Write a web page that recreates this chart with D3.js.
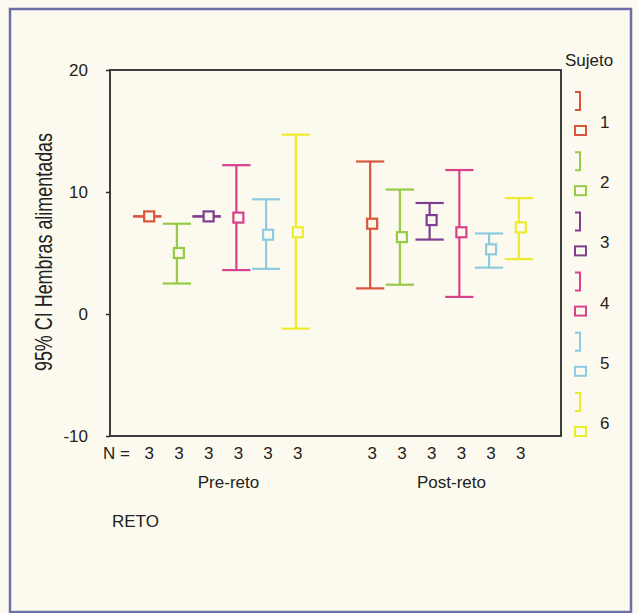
<!DOCTYPE html>
<html>
<head>
<meta charset="utf-8">
<script src="https://cdn.jsdelivr.net/npm/d3@7"></script>
<style>
  body { margin: 0; background: #fcfaee; }
  text { font-family: "Liberation Sans", Arial, sans-serif; fill: #222; }
</style>
</head>
<body>
<div id="chart-container"></div>
<script>
// groups on the x axis and subjects within each group
const retoLevels = ["Pre-reto", "Post-reto"];
const subjects = ["1", "2", "3", "4", "5", "6"];
const subjectColors = ["#d9553b", "#96cb48", "#7d3f8f", "#d8428c", "#8ccbe0", "#ecec2e"];

// means and 95% CI limits
const preMean = [8.0, 5.0, 8.0, 7.9, 6.5, 6.7];
const preLow = [8.0, 2.5, 8.0, 3.6, 3.7, -1.2];
const preHigh = [8.0, 7.4, 8.0, 12.2, 9.4, 14.7];
const postMean = [7.4, 6.3, 7.7, 6.7, 5.3, 7.1];
const postLow = [2.1, 2.4, 6.1, 1.4, 3.8, 4.5];
const postHigh = [12.5, 10.2, 9.1, 11.8, 6.6, 9.5];
const preN = [3, 3, 3, 3, 3, 3];
const postN = [3, 3, 3, 3, 3, 3];
const yTicks = [-10, 0, 10, 20];

const width = 638;
const height = 613;
const plot = { left: 110, top: 70, right: 561, bottom: 436 };

const rows = [];
subjects.forEach((s, i) => {
    rows.push({ reto: "Pre-reto", subject: s, mean: preMean[i], low: preLow[i], high: preHigh[i], n: preN[i] });
    rows.push({ reto: "Post-reto", subject: s, mean: postMean[i], low: postLow[i], high: postHigh[i], n: postN[i] });
});

const svg = d3.select("#chart-container")
    .append("svg")
        .attr("width", width)
        .attr("height", height);

svg.append("rect")
    .attr("width", width).attr("height", height)
    .attr("fill", "#fcfaee");

// outer frame of the figure
svg.append("rect")
    .attr("x", 10).attr("y", 9)
    .attr("width", 621).attr("height", 603)
    .attr("fill", "none")
    .attr("stroke", "#6b70a6")
    .attr("stroke-width", 2.5);

const y = d3.scaleLinear()
    .domain([-10, 20])
    .range([plot.bottom, plot.top]);

const x0 = d3.scaleBand()
    .domain(retoLevels)
    .range([plot.left, plot.left + 446]);

const x1 = d3.scaleBand()
    .domain(subjects)
    .range([0, x0.bandwidth()])
    .paddingOuter(0.75);

const color = d3.scaleOrdinal()
    .domain(subjects)
    .range(subjectColors);

const cx = d => x0(d.reto) + x1(d.subject) + x1.bandwidth() / 2;
const capW = x1.step() * 0.95;

// plot box
svg.append("rect")
    .attr("x", plot.left).attr("y", plot.top)
    .attr("width", plot.right - plot.left)
    .attr("height", plot.bottom - plot.top)
    .attr("fill", "none")
    .attr("stroke", "#2a2a2a")
    .attr("stroke-width", 1.8);

// y axis (plain hyphen for negatives, as in the original)
const yAxis = svg.append("g")
    .attr("transform", `translate(${plot.left},0)`)
    .call(d3.axisLeft(y).tickValues(yTicks).tickFormat(d => String(d))
        .tickSize(4).tickSizeOuter(0).tickPadding(18));
yAxis.select(".domain").remove();
yAxis.selectAll(".tick line").attr("stroke", "#2a2a2a").attr("stroke-width", 1.5);
yAxis.selectAll(".tick text")
    .attr("font-size", 17)
    .attr("font-family", "Liberation Sans, Arial, sans-serif")
    .attr("fill", "#222");

svg.append("text")
    .attr("transform", "translate(52,252) rotate(-90) scale(0.78,1)")
    .attr("text-anchor", "middle")
    .attr("font-size", 23)
    .text("95% CI Hembras alimentadas");

// error bars
const bar = svg.selectAll("g.bar")
    .data(rows)
    .enter()
    .append("g")
        .attr("class", "bar")
        .attr("stroke", d => color(d.subject))
        .attr("fill", "none")
        .attr("stroke-width", 2.2);

bar.append("line")
    .attr("x1", cx).attr("x2", cx)
    .attr("y1", d => y(d.high)).attr("y2", d => y(d.low));

bar.append("line")
    .attr("x1", d => cx(d) - capW / 2).attr("x2", d => cx(d) + capW / 2)
    .attr("y1", d => y(d.high)).attr("y2", d => y(d.high));

bar.append("line")
    .attr("x1", d => cx(d) - capW / 2).attr("x2", d => cx(d) + capW / 2)
    .attr("y1", d => y(d.low)).attr("y2", d => y(d.low));

bar.append("rect")
    .attr("x", d => cx(d) - 3)
    .attr("y", d => y(d.mean) - 5)
    .attr("width", 10).attr("height", 10)
    .attr("fill", "#fcfaee");

// N labels
svg.append("text")
    .attr("x", 103).attr("y", 459)
    .attr("font-size", 17)
    .text("N =");

svg.selectAll("text.n")
    .data(rows)
    .enter()
    .append("text")
        .attr("class", "n")
        .attr("x", d => cx(d) + 2)
        .attr("y", 459)
        .attr("text-anchor", "middle")
        .attr("font-size", 17)
        .text(d => d.n);

svg.selectAll("text.group")
    .data(retoLevels)
    .enter()
    .append("text")
        .attr("class", "group")
        .attr("x", d => x0(d) + x0.bandwidth() / 2 + 7)
        .attr("y", 488)
        .attr("text-anchor", "middle")
        .attr("font-size", 17)
        .text(d => d);

svg.append("text")
    .attr("x", 112).attr("y", 527)
    .attr("font-size", 17)
    .text("RETO");

// legend
const ly = d3.scalePoint()
    .domain(subjects)
    .range([122, 423]);

svg.append("text")
    .attr("x", 565).attr("y", 66)
    .attr("font-size", 17)
    .text("Sujeto");

const leg = svg.selectAll("g.leg")
    .data(subjects)
    .enter()
    .append("g")
        .attr("class", "leg")
        .attr("transform", d => `translate(580,${ly(d)})`);

leg.append("path")
    .attr("d", "M-5,-30 H0 V-12 H-5")
    .attr("fill", "none")
    .attr("stroke", d => color(d))
    .attr("stroke-width", 2);

leg.append("rect")
    .attr("x", -5).attr("y", 4)
    .attr("width", 11).attr("height", 9)
    .attr("fill", "none")
    .attr("stroke", d => color(d))
    .attr("stroke-width", 2);

leg.append("text")
    .attr("x", 20).attr("y", 6)
    .attr("font-size", 17)
    .text(d => d);
</script>
</body>
</html>
